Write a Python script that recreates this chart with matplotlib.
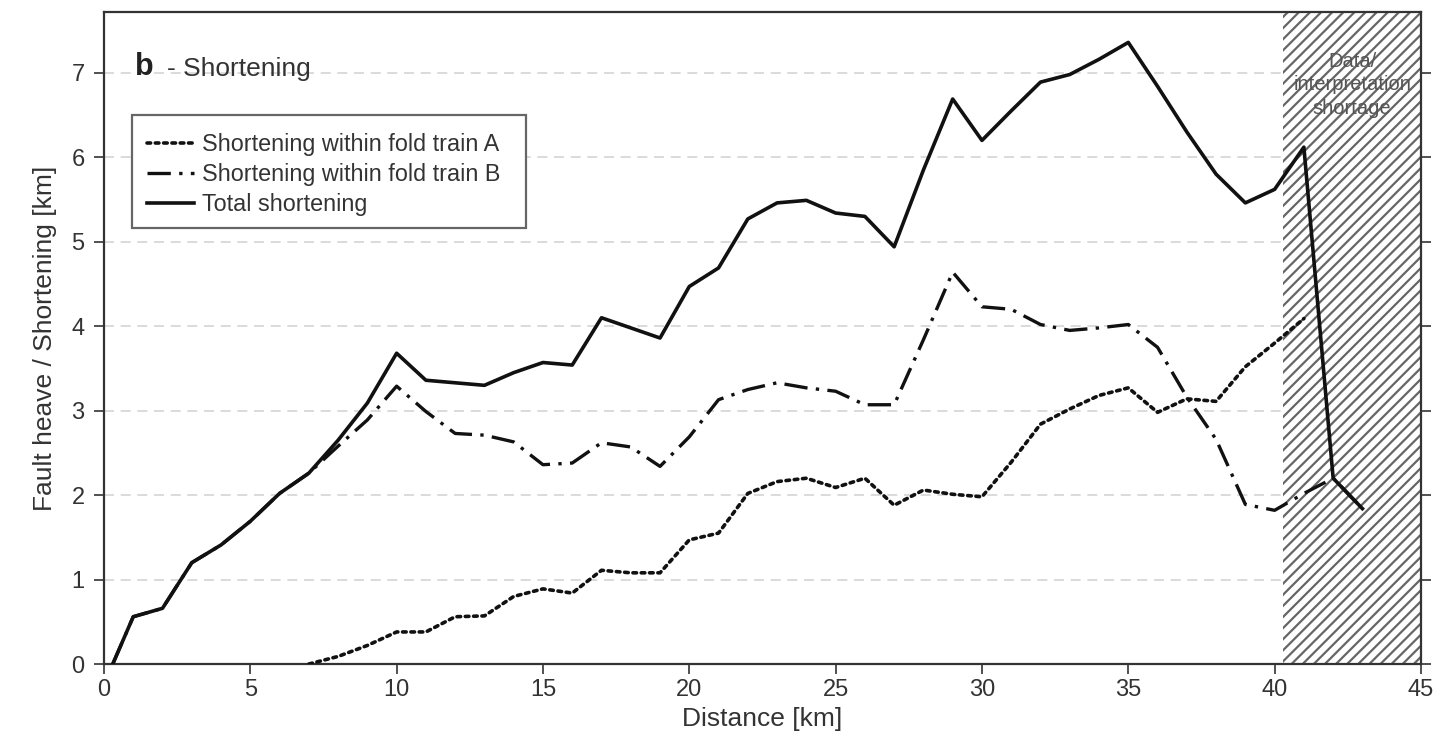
import matplotlib.pyplot as plt
from matplotlib.patches import Rectangle
import matplotlib as mpl

plt.rcParams["font.family"] = ["Liberation Sans", "DejaVu Sans"]
mpl.rcParams["hatch.color"] = "#666666"
mpl.rcParams["hatch.linewidth"] = 1.6

# distance along section [km]
dist_total = [0.3, 1, 2, 3, 4, 5, 6, 7, 8, 9, 10, 11, 12, 13, 14, 15, 16, 17, 18, 19, 20,
              21, 22, 23, 24, 25, 26, 27, 28, 29, 30, 31, 32, 33, 34, 35, 36, 37, 38, 39,
              40, 41, 42, 43]
total_short = [0.0, 0.56, 0.66, 1.2, 1.41, 1.69, 2.02, 2.26, 2.65, 3.09, 3.68, 3.36, 3.33,
               3.30, 3.45, 3.57, 3.54, 4.10, 3.98, 3.86, 4.47, 4.69, 5.27, 5.46, 5.49, 5.34,
               5.30, 4.94, 5.85, 6.69, 6.20, 6.55, 6.89, 6.98, 7.16, 7.36, 6.84, 6.30, 5.80,
               5.46, 5.62, 6.12, 2.20, 1.84]

dist_b = dist_total
train_b = [0.0, 0.56, 0.66, 1.2, 1.41, 1.69, 2.02, 2.26, 2.58, 2.89, 3.29, 2.99, 2.73,
           2.71, 2.63, 2.36, 2.38, 2.62, 2.57, 2.34, 2.69, 3.13, 3.25, 3.33, 3.27, 3.23,
           3.07, 3.07, 3.84, 4.64, 4.23, 4.20, 4.02, 3.95, 3.98, 4.02, 3.75, 3.16, 2.66,
           1.89, 1.82, 2.02, 2.20, 1.84]

dist_a = [7, 8, 9, 10, 11, 12, 13, 14, 15, 16, 17, 18, 19, 20, 21, 22, 23, 24, 25, 26,
          27, 28, 29, 30, 31, 32, 33, 34, 35, 36, 37, 38, 39, 40, 41]
train_a = [0.0, 0.09, 0.22, 0.38, 0.38, 0.56, 0.57, 0.80, 0.89, 0.84, 1.11, 1.08, 1.08,
           1.47, 1.55, 2.02, 2.16, 2.20, 2.09, 2.20, 1.88, 2.06, 2.01, 1.98, 2.39, 2.84,
           3.02, 3.18, 3.27, 2.98, 3.14, 3.11, 3.52, 3.80, 4.09]

shortage_start, shortage_end = 40.3, 45.0

x_ticks = [0, 5, 10, 15, 20, 25, 30, 35, 40, 45]
y_ticks = [0, 1, 2, 3, 4, 5, 6, 7]

fig = plt.figure(figsize=(14.42, 7.51), dpi=100)
ax = fig.add_axes([0.0721, 0.1158, 0.9133, 0.8682])

# hatched zone with missing data
ax.add_patch(Rectangle((shortage_start, 0), shortage_end - shortage_start, 7.72,
                       facecolor="white", edgecolor="#666666", hatch="///",
                       linewidth=0, zorder=1))
ax.text((shortage_start + shortage_end) / 2, 6.86, "Data/\ninterpretation\nshortage",
        ha="center", va="center", fontsize=14.5, color="#555555", linespacing=1.3,
        zorder=2)

for yv in y_ticks[1:]:
    ax.axhline(yv, color="#d4d4d4", linestyle=(0, (6, 4)), linewidth=1.2, zorder=0.5)

ax.plot(dist_a, train_a, color="#111111", linestyle=(0, (1, 1.3)), linewidth=2.6,
        dash_capstyle="round", label="Shortening within fold train A", zorder=3)
ax.plot(dist_b, train_b, color="#111111", linestyle=(0, (7, 2.5, 1, 2.5)), linewidth=2.4,
        label="Shortening within fold train B", zorder=3)
ax.plot(dist_total, total_short, color="#111111", linestyle="-", linewidth=2.6,
        label="Total shortening", zorder=4)

ax.set_xlim(0, 45)
ax.set_ylim(0, 7.72)
ax.set_xticks(x_ticks)
ax.set_yticks(y_ticks)
ax.tick_params(axis="both", labelsize=17, colors="#333333", length=7, width=1.2,
               direction="out")
ax.tick_params(axis="x", pad=4)
ax.tick_params(axis="y", right=True, pad=7)
for spine in ax.spines.values():
    spine.set_color("#333333")
    spine.set_linewidth(1.6)

ax.set_xlabel("Distance [km]", fontsize=19, color="#333333", labelpad=4)
ax.set_ylabel("Fault heave / Shortening [km]", fontsize=19, color="#333333", labelpad=10)

ax.text(0.0236, 0.9156, "b", transform=ax.transAxes, fontsize=22, fontweight="bold",
        color="#222222", va="center")
ax.text(0.0479, 0.912, "- Shortening", transform=ax.transAxes, fontsize=19,
        color="#333333", va="center")

# legend box drawn separately so its padding can be set freely
ax.add_patch(Rectangle((0.0213, 0.6687), 0.2994, 0.1733, transform=ax.transAxes,
                       facecolor="white", edgecolor="#666666", linewidth=1.6, zorder=5))
leg = ax.legend(loc="upper left", bbox_to_anchor=(0.0327, 0.8145), fontsize=16.8,
                frameon=False, handlelength=2.0, handletextpad=0.35, borderpad=0,
                borderaxespad=0, labelspacing=0.3)
leg.set_zorder(6)
for t in leg.get_texts():
    t.set_color("#333333")

fig.savefig("out.png", dpi=100)
